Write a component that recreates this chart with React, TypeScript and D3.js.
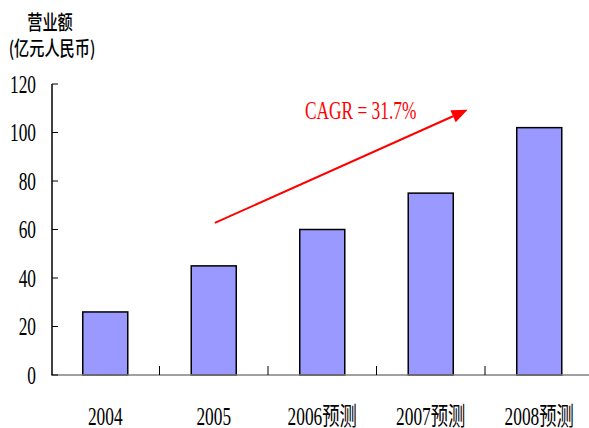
import React from 'react';
import * as d3 from 'd3';

// data
const categories = ['2004', '2005', '2006预测', '2007预测', '2008预测'];
const revenue = [26, 45, 60, 75, 102];
const yTicks = [0, 20, 40, 60, 80, 100, 120];
const titleLines = ['营业额', '(亿元人民币)'];
const cagrLabel = 'CAGR = 31.7%';
// arrow annotation in data units: [category position (0..5), value]
const arrowFrom = [1.51, 62.7];
const arrowTo = [3.84, 109.4];

const W = 589;
const H = 428;
const serif = '"Liberation Serif", "Noto Sans CJK SC", serif';
const fs = 25.5;
const sx = 0.68; // condensed look of the original font

const App = () => {
    const x = d3.scaleBand().domain(categories).range([51, 593.5]).padding(0);
    const xPos = d3.scaleLinear().domain([0, categories.length]).range([51, 593.5]);
    const y = d3.scaleLinear().domain([0, 120]).range([375, 84]);
    const step = x.step();
    const bw = step * 0.415;

    // arrow geometry
    const x1 = xPos(arrowFrom[0]), y1 = y(arrowFrom[1]);
    const x2 = xPos(arrowTo[0]), y2 = y(arrowTo[1]);
    const ang = Math.atan2(y2 - y1, x2 - x1);
    const headLen = 16, headW = 6.5;
    const bx = x2 - headLen * Math.cos(ang), by = y2 - headLen * Math.sin(ang);
    const head = [
        [x2, y2],
        [bx - headW * Math.sin(ang), by + headW * Math.cos(ang)],
        [bx + headW * Math.sin(ang), by - headW * Math.cos(ang)],
    ];

    return (
        <svg width={W} height={H} style={{ position: 'absolute', left: 0, top: 0, background: '#fff' }}>
            {/* title */}
            <g fontFamily='"Noto Sans CJK SC", sans-serif' fontSize={20} fontWeight={500} fill="#000">
                <g transform={`translate(50,30) scale(0.76,1)`}>
                    <text textAnchor="middle">{titleLines[0]}</text>
                </g>
                <g transform={`translate(52,56) scale(0.76,1)`}>
                    <text textAnchor="middle">{titleLines[1]}</text>
                </g>
            </g>

            {/* bars */}
            {revenue.map((v, i) => (
                <rect
                    key={categories[i]}
                    x={x(categories[i])! + (step - bw) / 2}
                    y={y(v)}
                    width={bw}
                    height={y(0) - y(v)}
                    fill="#9999ff"
                    stroke="#000"
                    strokeWidth={1.5}
                />
            ))}

            {/* x axis */}
            <line x1={51} x2={W} y1={y(0)} y2={y(0)} stroke="#808080" strokeWidth={1.5} />
            {categories.slice(1).map(c => (
                <line key={c} x1={x(c)} x2={x(c)} y1={y(0)} y2={y(0) - 9} stroke="#000" strokeWidth={1} />
            ))}
            {categories.map(c => (
                <g key={c} transform={`translate(${x(c)! + step / 2},424.5) scale(${sx},1)`}>
                    <text textAnchor="middle" fontFamily={serif} fontSize={fs} fill="#000">{c}</text>
                </g>
            ))}

            {/* y axis */}
            <line x1={52} x2={52} y1={y(120)} y2={y(0)} stroke="#000" strokeWidth={1.5} />
            {yTicks.map(t => (
                <g key={t}>
                    <line x1={52} x2={58} y1={y(t)} y2={y(t)} stroke="#000" strokeWidth={1} />
                    <g transform={`translate(36,${y(t)}) scale(${sx},1)`}>
                        <text textAnchor="end" dy="0.35em" fontFamily={serif} fontSize={fs} fill="#000">{t}</text>
                    </g>
                </g>
            ))}

            {/* CAGR annotation */}
            <line x1={x1} y1={y1} x2={bx} y2={by} stroke="#ff0000" strokeWidth={2} />
            <polygon points={head.map(p => p.join(',')).join(' ')} fill="#ff0000" />
            <g transform={`translate(305,118.5) scale(${sx},1)`}>
                <text fontFamily={serif} fontSize={fs} fill="#ff0000">{cagrLabel}</text>
            </g>
        </svg>
    );
};

export default App;
